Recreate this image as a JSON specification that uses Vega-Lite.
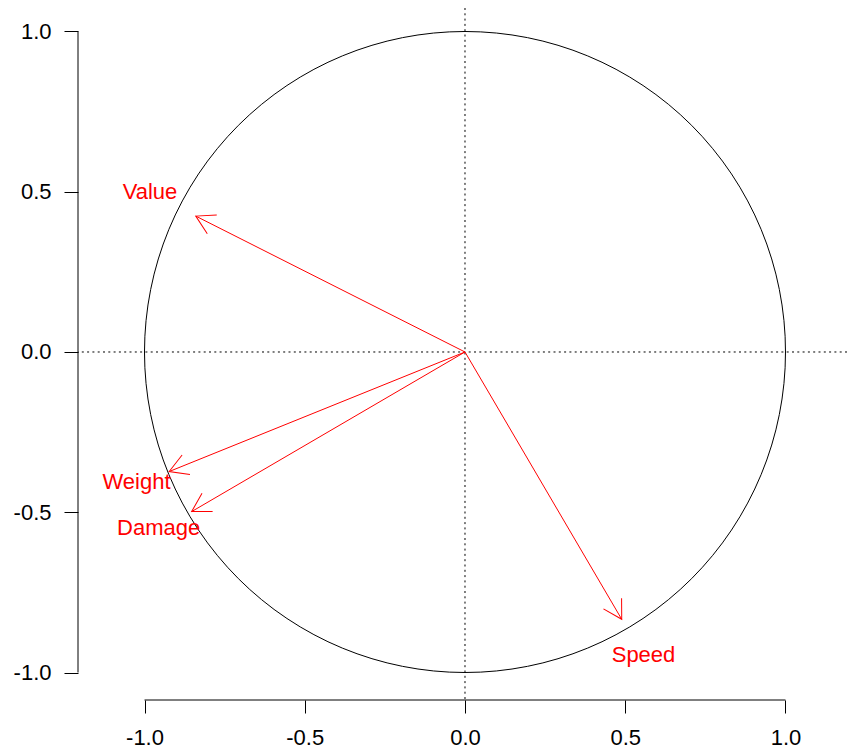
{
  "$schema": "https://vega.github.io/schema/vega-lite/v6.json",
  "width": 769,
  "height": 692,
  "autosize": {"type": "none"},
  "padding": {"left": 78, "top": 8, "right": 0, "bottom": 54},
  "background": "white",
  "config": {"view": {"stroke": null}, "font": "Liberation Sans"},
  "data": {"values": [
    {"variable": "Value", "x0": 0, "y0": 0, "x": -0.840, "y": 0.424, "lx": -0.983, "ly": 0.499},
    {"variable": "Weight", "x0": 0, "y0": 0, "x": -0.923, "y": -0.373, "lx": -1.025, "ly": -0.406},
    {"variable": "Damage", "x0": 0, "y0": 0, "x": -0.853, "y": -0.498, "lx": -0.956, "ly": -0.549},
    {"variable": "Speed", "x0": 0, "y0": 0, "x": 0.489, "y": -0.834, "lx": 0.557, "ly": -0.945}
  ]},
  "layer": [
    {
      "data": {"values": [{"v": 0}]},
      "mark": {"type": "rule", "color": "black", "strokeWidth": 1, "strokeDash": [2, 3.3]},
      "encoding": {
        "y": {"field": "v", "type": "quantitative",
          "scale": {"domain": [-1.0858, 1.0733], "nice": false, "zero": false},
          "axis": {"values": [-1, -0.5, 0, 0.5, 1], "labelExpr": "replace(format(datum.value, '.1f'), '\u2212', '-')", "domain": false, "grid": false, "tickSize": 14, "tickColor": "black", "tickWidth": 1, "labelFontSize": 22, "labelColor": "black", "labelPadding": 13, "labelFont": "Liberation Sans", "title": null}
        }
      }
    },
    {
      "data": {"values": [{"v": 0}]},
      "mark": {"type": "rule", "color": "black", "strokeWidth": 1, "strokeDash": [2, 3.3]},
      "encoding": {
        "x": {"field": "v", "type": "quantitative",
          "scale": {"domain": [-1.2075, 1.1919], "nice": false, "zero": false},
          "axis": {"values": [-1, -0.5, 0, 0.5, 1], "labelExpr": "replace(format(datum.value, '.1f'), '\u2212', '-')", "domain": false, "grid": false, "tickSize": 13, "tickColor": "black", "tickWidth": 1, "labelFontSize": 22, "labelColor": "black", "labelPadding": 14, "labelFont": "Liberation Sans", "title": null}
        }
      }
    },
    {
      "data": {"values": [{"p": -1.2075, "a": -1, "b": 1}]},
      "mark": {"type": "rule", "color": "black", "strokeWidth": 1},
      "encoding": {
        "x": {"field": "p", "type": "quantitative"},
        "y": {"field": "a", "type": "quantitative"},
        "y2": {"field": "b"}
      }
    },
    {
      "data": {"values": [{"p": -1.0858, "a": -1, "b": 1}]},
      "mark": {"type": "rule", "color": "black", "strokeWidth": 1},
      "encoding": {
        "y": {"field": "p", "type": "quantitative"},
        "x": {"field": "a", "type": "quantitative"},
        "x2": {"field": "b"}
      }
    },
    {
      "data": {"values": [{"cx": 0, "cy": 0}]},
      "mark": {"type": "point", "shape": "circle", "size": 410881, "filled": false, "stroke": "black", "strokeWidth": 1, "opacity": 1},
      "encoding": {
        "x": {"field": "cx", "type": "quantitative"},
        "y": {"field": "cy", "type": "quantitative"}
      }
    },
    {
      "mark": {"type": "rule", "color": "red", "strokeWidth": 1},
      "encoding": {
        "x": {"field": "x0", "type": "quantitative"},
        "y": {"field": "y0", "type": "quantitative"},
        "x2": {"field": "x"},
        "y2": {"field": "y"}
      }
    },
    {
      "transform": [{"calculate": "atan2(-datum.y, datum.x) * 180 / PI", "as": "ang"}],
      "mark": {"type": "point", "shape": "M-0.866,-0.5L0,0L-0.866,0.5", "size": 1764, "filled": false, "stroke": "red", "strokeWidth": 1, "opacity": 1},
      "encoding": {
        "x": {"field": "x", "type": "quantitative"},
        "y": {"field": "y", "type": "quantitative"},
        "angle": {"field": "ang", "type": "quantitative", "scale": null}
      }
    },
    {
      "mark": {"type": "text", "color": "red", "fontSize": 22, "align": "center", "baseline": "middle", "font": "Liberation Sans"},
      "encoding": {
        "x": {"field": "lx", "type": "quantitative"},
        "y": {"field": "ly", "type": "quantitative"},
        "text": {"field": "variable", "type": "nominal"}
      }
    }
  ]
}
